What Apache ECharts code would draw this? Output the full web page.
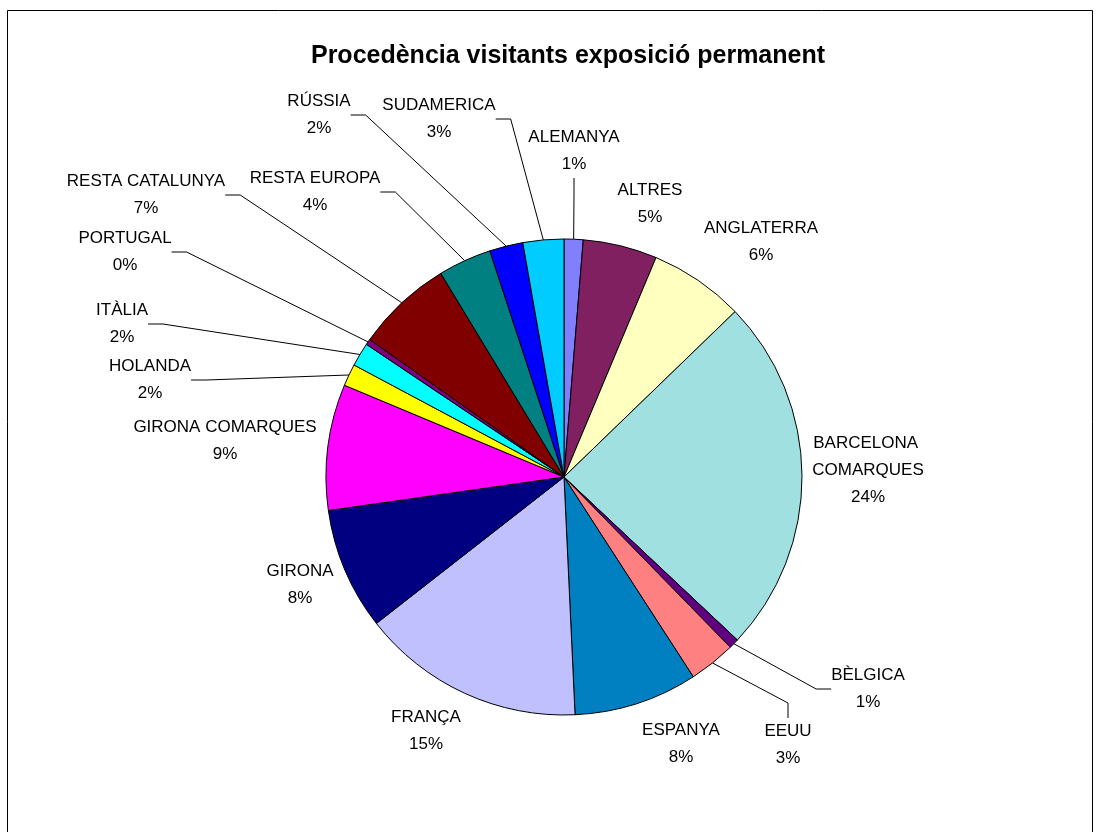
<!DOCTYPE html>
<html>
<head>
<meta charset="utf-8">
<script src="https://cdn.jsdelivr.net/npm/echarts@6/dist/echarts.min.js"></script>
<style>
  html, body { margin: 0; padding: 0; background: #fff; }
  #diagram { width: 1105px; height: 832px; }
</style>
</head>
<body>
<div id="diagram"></div>
<script>
// categories in the order Excel draws them, clockwise from 12 o'clock
var countries = [
  "ALEMANYA", "ALTRES", "ANGLATERRA", "BARCELONA COMARQUES", "BÈLGICA",
  "EEUU", "ESPANYA", "FRANÇA", "GIRONA", "GIRONA COMARQUES", "HOLANDA",
  "ITÀLIA", "PORTUGAL", "RESTA CATALUNYA", "RESTA EUROPA", "RÚSSIA", "SUDAMERICA"
];
// share of visitors (%)
var visitors = [
  1.29, 5.03, 6.45, 24.24, 0.68,
  3.17, 8.40, 15.19, 8.30, 8.55, 1.50,
  1.61, 0.39, 6.54, 3.62, 2.27, 2.77
];
var sliceColors = [
  "#8080FF", "#802060", "#FFFFC0", "#A0E0E0", "#600080",
  "#FF8080", "#0080C0", "#C0C0FF", "#000080", "#FF00FF", "#FFFF00",
  "#00FFFF", "#800080", "#800000", "#008080", "#0000FF", "#00CCFF"
];
// where Excel left each data label (centre of the text block)
var labelPos = [
  [574, 151], [650, 204], [761, 242], [868, 470], [868, 689],
  [788, 745], [681, 744], [426, 731], [300, 585], [225, 441], [150, 380],
  [122, 324], [125, 252], [146, 195], [315, 192], [319, 115], [439, 119]
];
var hasLeader = [
  true, false, false, false, true,
  true, false, false, false, false, true,
  true, true, true, true, true, true
];

var myChart = echarts.init(document.getElementById("diagram"));

var pieData = countries.map(function (name, i) {
  var item = {
    name: name,
    value: visitors[i],
    itemStyle: { color: sliceColors[i] },
    labelLine: { show: hasLeader[i] }
  };
  if (name === "BARCELONA COMARQUES") {
    item.label = { width: 125, overflow: "break" };
  }
  return item;
});

var option = {
  backgroundColor: "#fff",
  animation: false,
  title: {
    text: "Procedència visitants exposició permanent",
    left: 563,
    top: 39,
    textAlign: "center",
    textStyle: {
      fontFamily: "Liberation Sans",
      fontSize: 25,
      fontWeight: "bold",
      color: "#000"
    }
  },
  graphic: [{
    type: "rect",
    shape: { x: 7.5, y: 10.5, width: 1085, height: 840 },
    style: { fill: null, stroke: "#000", lineWidth: 1 },
    silent: true
  }],
  series: [{
    type: "pie",
    center: [564, 477],
    radius: 238,
    startAngle: 90,
    clockwise: true,
    avoidLabelOverlap: false,
    itemStyle: { borderColor: "#000", borderWidth: 1 },
    label: {
      show: true,
      position: "outside",
      color: "#000",
      fontFamily: "Liberation Sans",
      fontSize: 17,
      lineHeight: 27,
      formatter: function (p) {
        return p.name + "\n" + Math.round(p.percent) + "%";
      }
    },
    labelLine: {
      length: 10,
      length2: 15,
      smooth: false,
      lineStyle: { color: "#000", width: 1 }
    },
    labelLayout: function (p) {
      var pos = labelPos[p.dataIndex];
      return { x: pos[0], y: pos[1], align: "center", verticalAlign: "middle" };
    },
    emphasis: { disabled: true },
    data: pieData
  }]
};
myChart.setOption(option);
</script>
</body>
</html>
